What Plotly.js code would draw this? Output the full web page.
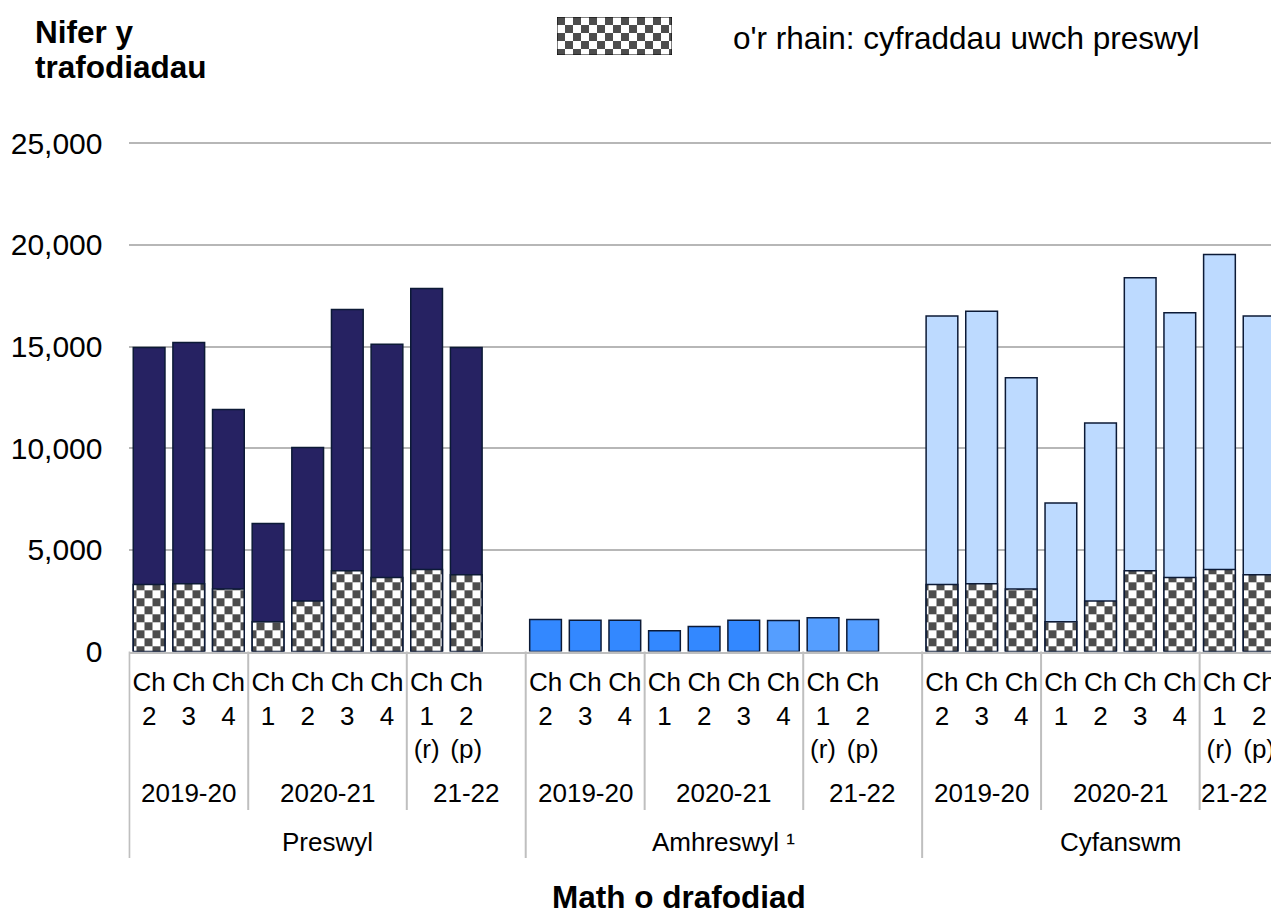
<!DOCTYPE html>
<html><head><meta charset="utf-8">
<script src="https://cdn.plot.ly/plotly-3.0.1.min.js"></script>
<style>body{margin:0;background:#fff}#chart{width:1271px;height:911px}</style>
</head><body><div id="chart"></div>
<script>
// ---- data ----
const quarterLabels = ['Ch<br>2','Ch<br>3','Ch<br>4','Ch<br>1','Ch<br>2','Ch<br>3','Ch<br>4','Ch<br>1<br>(r)','Ch<br>2<br>(p)'];
const yearLabels = ['2019-20','2020-21','21-22'];
const yearQuarterCounts = [3, 4, 2];
const groupLabels = ['Preswyl','Amhreswyl ¹','Cyfanswm'];
const preswylTotal   = [14960, 15200, 11910, 6300, 10040, 16830, 15110, 17860, 14960];
const preswylHigher  = [3300, 3330, 3070, 1460, 2490, 3970, 3640, 4030, 3770];
const amhreswylTotal = [1570, 1540, 1540, 1020, 1230, 1540, 1530, 1660, 1580];
const cyfanswmTotal  = [16500, 16740, 13470, 7300, 11240, 18390, 16660, 19530, 16510];
const cyfanswmHigher = [3300, 3330, 3070, 1460, 2490, 3970, 3640, 4030, 3770];
const yTicks = [0, 5000, 10000, 15000, 20000, 25000];
const legendLabel = "o'r rhain: cyfraddau uwch preswyl";
const yTitleLines = ['Nifer y', 'trafodiadau'];
const xTitle = 'Math o drafodiad';

// ---- styles ----
const W = 1271, H = 911;
const FONT = 'Liberation Sans, Arial, Helvetica, sans-serif';
const NAVY = '#262262', OUTLINE = '#0c1a36';
const amhColors = ['#3388ff','#3388ff','#3388ff','#3388ff','#3388ff','#3388ff','#559eff','#559eff','#559eff'];
const CYF = '#bddaff';
const GRID = '#b7b7b7';
const px = v => v / W;
const py = v => (H - v) / H;
const SLOTS = 10; // 9 quarters + 1 blank slot per group
const X_RANGE = [-0.52, 28.3];

const pos = g => quarterLabels.map((_, i) => g * SLOTS + i);
const pattern = {shape: '.', size: 16, solidity: 0.5, fgcolor: '#4d4d4d', bgcolor: '#ffffff', fillmode: 'replace'};
const lineStyle = {color: OUTLINE, width: 1.5};

const data = [
  {type: 'bar', x: pos(0), y: preswylTotal, width: 0.8, marker: {color: NAVY, line: lineStyle}},
  {type: 'bar', x: pos(0), y: preswylHigher, width: 0.8, marker: {color: '#ffffff', pattern: pattern, line: lineStyle}},
  {type: 'bar', x: pos(1), y: amhreswylTotal, width: 0.8, marker: {color: amhColors, line: lineStyle}},
  {type: 'bar', x: pos(2), y: cyfanswmTotal, width: 0.8, marker: {color: CYF, line: lineStyle}},
  {type: 'bar', x: pos(2), y: cyfanswmHigher, width: 0.8, marker: {color: '#ffffff', pattern: pattern, line: lineStyle}},
  // legend swatch
  {type: 'bar', x: [0], y: [1], width: [1], xaxis: 'x2', yaxis: 'y2', cliponaxis: false,
   marker: {color: '#ffffff', pattern: pattern, line: {color: '#000', width: 1}}}
];
data.forEach(t => { t.hoverinfo = 'skip'; t.showlegend = false; });

const tickvals = [], ticktext = [];
for (let g = 0; g < groupLabels.length; g++) pos(g).forEach((x, i) => { tickvals.push(x); ticktext.push(quarterLabels[i]); });

const annotations = [];
const shapes = [];
const sepStyle = {color: '#bfbfbf', width: 2};
for (let g = 0; g < groupLabels.length; g++) {
  const base = g * SLOTS;
  shapes.push({type: 'line', xref: 'x', yref: 'paper', x0: base - 0.5, x1: base - 0.5, y0: py(651.5), y1: py(858), line: sepStyle});
  let start = 0;
  yearLabels.forEach((yl, k) => {
    const n = yearQuarterCounts[k] + (k === yearLabels.length - 1 ? 1 : 0);
    const end = start + n - 1;
    const cx = base + (start + end) / 2;
    const ann = {xref: 'x', yref: 'paper', x: cx, y: py(793), text: yl,
      showarrow: false, xanchor: 'center', yanchor: 'middle', font: {size: 26}};
    if (cx + 1.2 > X_RANGE[1]) { // label would run past the visible edge: keep it inside, right-aligned
      ann.xref = 'paper'; ann.x = 1; ann.xanchor = 'right'; ann.xshift = -1;
    }
    annotations.push(ann);
    if (k > 0) shapes.push({type: 'line', xref: 'x', yref: 'paper', x0: base + start - 0.5, x1: base + start - 0.5, y0: py(651.5), y1: py(810), line: sepStyle});
    start = end + 1;
  });
  annotations.push({xref: 'x', yref: 'paper', x: base + (SLOTS - 1) / 2, y: py(842), text: groupLabels[g],
    showarrow: false, xanchor: 'center', yanchor: 'middle', font: {size: 26}});
}

annotations.push({xref: 'paper', yref: 'paper', x: px(33), y: py(32), text: '<b>' + yTitleLines[0] + '</b>', showarrow: false, xanchor: 'left', yanchor: 'middle', font: {size: 31.5}});
annotations.push({xref: 'paper', yref: 'paper', x: px(33), y: py(67), text: '<b>' + yTitleLines[1] + '</b>', showarrow: false, xanchor: 'left', yanchor: 'middle', font: {size: 31.5}});
annotations.push({xref: 'paper', yref: 'paper', x: px(731), y: py(38), text: legendLabel, showarrow: false, xanchor: 'left', yanchor: 'middle', font: {size: 31.5}});
annotations.push({xref: 'paper', yref: 'paper', x: px(679), y: py(897), text: '<b>' + xTitle + '</b>', showarrow: false, xanchor: 'center', yanchor: 'middle', font: {size: 31.5}});

const layout = {
  width: W, height: H,
  margin: {l: 0, r: 0, t: 0, b: 0, pad: 0},
  paper_bgcolor: '#ffffff', plot_bgcolor: '#ffffff',
  barmode: 'overlay', showlegend: false,
  font: {family: FONT, size: 26, color: '#000000'},
  xaxis: {domain: [px(128.5), 1], range: X_RANGE, tickvals: tickvals, ticktext: ticktext,
    tickfont: {size: 26}, ticks: '', ticklabelstandoff: 6, ticklabeloverflow: 'allow',
    showline: true, linecolor: '#bfbfbf', linewidth: 2,
    showgrid: false, zeroline: false, automargin: false, fixedrange: true},
  yaxis: {domain: [py(651.5), py(142.3)], range: [0, 25050], tickvals: yTicks,
    tickformat: ',', tickfont: {size: 30}, ticks: '', ticklabelstandoff: 25, gridcolor: GRID, gridwidth: 2,
    zeroline: false, showline: false, automargin: false, fixedrange: true},
  xaxis2: {domain: [px(557), px(672)], anchor: 'y2', range: [-0.5, 0.5], visible: false, fixedrange: true},
  yaxis2: {domain: [py(55), py(17)], anchor: 'x2', range: [0, 1], visible: false, fixedrange: true},
  annotations: annotations,
  shapes: shapes
};

Plotly.newPlot('chart', data, layout, {staticPlot: true, displayModeBar: false}).then(gd => {
  const NS = 'http://www.w3.org/2000/svg';
  const c = 8;
  gd.querySelectorAll('pattern').forEach(p => {
    p.setAttribute('width', 2 * c); p.setAttribute('height', 2 * c);
    while (p.firstChild) p.removeChild(p.firstChild);
    [[0, 0, 2 * c, '#ffffff'], [0, 0, c, '#4d4d4d'], [c, c, c, '#4d4d4d']].forEach(([x, y, s, f]) => {
      const r = document.createElementNS(NS, 'rect');
      r.setAttribute('x', x); r.setAttribute('y', y); r.setAttribute('width', s); r.setAttribute('height', s); r.setAttribute('fill', f);
      p.appendChild(r);
    });
  });
});
</script>
</body></html>
